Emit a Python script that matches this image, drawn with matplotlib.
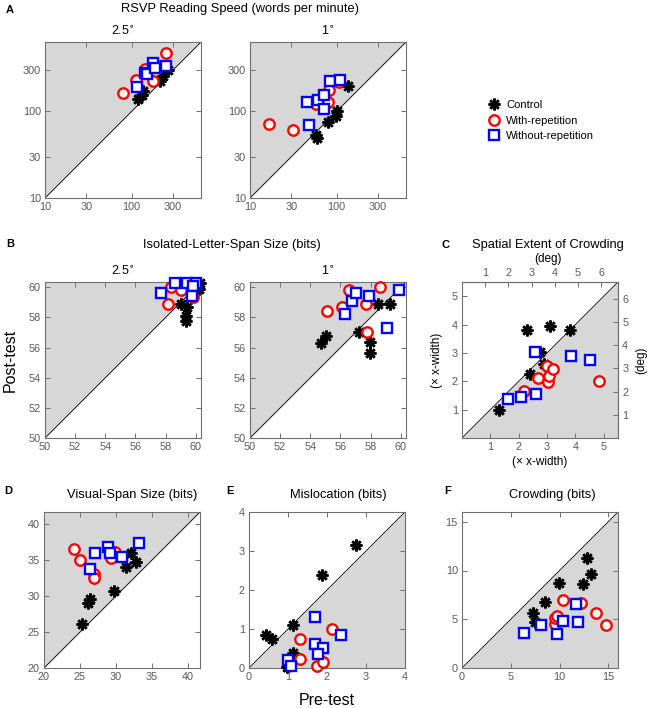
import matplotlib.pyplot as plt

plt.rcParams['font.family'] = ['Liberation Sans', 'DejaVu Sans']

# ---- data (pre-test x, post-test y) ----
# A: RSVP reading speed, 2.5 deg
a25_ctrl_x = [119, 130, 134, 212, 232, 265]
a25_ctrl_y = [139, 156, 170, 222, 253, 297]
a25_rep_x = [80, 111, 143, 175, 194, 247]
a25_rep_y = [161, 232, 310, 226, 330, 471]
a25_norep_x = [114, 143, 152, 176, 186, 247]
a25_norep_y = [189, 277, 271, 358, 316, 330]
# A: RSVP reading speed, 1 deg
a1_ctrl_x = [58, 59, 79, 98, 101, 136]
a1_ctrl_y = [54, 49, 75, 89, 100, 196]
a1_rep_x = [16.4, 31, 57, 79, 82, 107]
a1_rep_y = [72, 61, 120, 128, 175, 218]
a1_norep_x = [45, 48, 61, 71, 71, 84, 108]
a1_norep_y = [128, 70, 134, 153, 105, 226, 232]
# B: isolated-letter-span size, 2.5 deg
b25_ctrl_x = [59.0, 59.45, 59.34, 59.34, 60.2, 60.3]
b25_ctrl_y = [58.9, 58.7, 58.1, 57.75, 59.9, 60.3]
b25_rep_x = [58.18, 58.35, 59.0, 59.05, 59.8]
b25_rep_y = [58.9, 60.0, 60.25, 59.8, 59.35]
b25_norep_x = [57.67, 58.64, 59.45, 60.0, 59.8, 59.76]
b25_norep_y = [59.6, 60.3, 60.3, 60.3, 60.1, 59.4]
# B: isolated-letter-span size, 1 deg
b1_ctrl_x = [54.68, 55.05, 57.2, 57.96, 57.96, 58.46, 59.3]
b1_ctrl_y = [56.3, 56.77, 57.06, 56.34, 55.66, 58.9, 58.9]
b1_rep_x = [55.1, 56.1, 56.6, 57.7, 57.75, 58.64]
b1_rep_y = [58.44, 58.7, 59.85, 58.9, 57.06, 60.05]
b1_norep_x = [56.3, 56.77, 57.05, 57.9, 59.1, 59.9]
b1_norep_y = [58.2, 59.1, 59.6, 59.4, 57.3, 59.85]
# C: spatial extent of crowding (x-width)
c_ctrl_x = [1.31, 2.29, 3.12, 3.8, 2.74, 2.41, 2.9]
c_ctrl_y = [1.0, 3.82, 3.94, 3.8, 3.04, 2.27, 2.6]
c_rep_x = [2.18, 2.67, 3.0, 3.04, 3.08, 3.2, 4.82]
c_rep_y = [1.66, 2.13, 2.53, 1.98, 2.18, 2.45, 2.01]
c_norep_x = [1.62, 2.09, 2.6, 2.59, 3.85, 4.52]
c_norep_y = [1.39, 1.44, 1.55, 3.02, 2.89, 2.75]
# D: visual-span size
d_ctrl_x = [25.23, 26.1, 26.43, 29.72, 31.34, 32.04, 32.82]
d_ctrl_y = [26.14, 29.07, 29.6, 30.7, 34.05, 35.95, 34.8]
d_rep_x = [24.12, 24.95, 26.94, 26.94, 29.26, 29.9]
d_rep_y = [36.6, 34.98, 33.07, 32.5, 35.3, 36.1]
d_norep_x = [26.43, 27.13, 28.89, 29.12, 30.83, 33.24]
d_norep_y = [33.77, 36.05, 36.8, 36.05, 35.5, 37.35]
# E: mislocation
e_ctrl_x = [0.44, 0.59, 1.14, 1.14, 0.97, 1.86, 2.75]
e_ctrl_y = [0.85, 0.75, 1.09, 0.38, 0.03, 2.38, 3.16]
e_rep_x = [1.3, 1.3, 1.75, 1.9, 2.14]
e_rep_y = [0.75, 0.22, 0.05, 0.15, 1.0]
e_norep_x = [1.0, 1.08, 1.69, 1.69, 1.91, 1.77, 2.36]
e_norep_y = [0.21, 0.05, 1.31, 0.61, 0.52, 0.37, 0.84]
# F: crowding
f_ctrl_x = [7.28, 7.52, 8.54, 9.9, 12.45, 12.79, 13.27]
f_ctrl_y = [5.61, 4.69, 6.77, 8.71, 8.64, 11.33, 9.63]
f_rep_x = [9.56, 9.56, 9.73, 10.31, 12.18, 13.78, 14.76]
f_rep_y = [4.52, 5.1, 5.31, 6.94, 6.67, 5.65, 4.46]
f_norep_x = [6.36, 8.13, 9.73, 10.31, 11.87, 11.7]
f_norep_y = [3.54, 4.39, 3.47, 4.83, 4.69, 6.56]

deg_per_xwidth = 1.223

W, H = 647, 708
fig = plt.figure(figsize=(W / 100, H / 100), dpi=100)
GRAY = '#d7d7d7'
EDGE = '#707070'
LABELC = '#5a5a5a'


def add_ax(x0, y0, w=156, h=156):
    return fig.add_axes([x0 / W, 1 - (y0 + h) / H, w / W, h / H])


def ftext(x, y, s, **kw):
    return fig.text(x / W, 1 - y / H, s, ha='center', va='center', **kw)


def style(ax, lo, hi, ticks, shade_above, log=False, box=True):
    if log:
        ax.set_xscale('log')
        ax.set_yscale('log')
    ax.set_xlim(lo, hi)
    ax.set_ylim(lo, hi)
    if shade_above:
        ax.fill_between([lo, hi], [lo, hi], hi, color=GRAY, lw=0, zorder=0)
    else:
        ax.fill_between([lo, hi], lo, [lo, hi], color=GRAY, lw=0, zorder=0)
    ax.plot([lo, hi], [lo, hi], color='k', lw=0.6, zorder=1)
    ax.set_xticks(ticks)
    ax.set_yticks(ticks)
    ax.set_xticklabels([str(t) for t in ticks])
    ax.set_yticklabels([str(t) for t in ticks])
    ax.minorticks_off()
    ax.tick_params(direction='in', top=box, right=box, length=3.5, width=0.7,
                   color=EDGE, labelcolor=LABELC, labelsize=7.8, pad=3)
    for s in ax.spines.values():
        s.set_color(EDGE)
        s.set_linewidth(0.8)


def points(ax, cx, cy, rx, ry, nx, ny):
    ax.plot(cx, cy, ls='none', marker=(8, 2, 0), ms=8.5, mew=1.8, color='k',
            label='Control', clip_on=False, zorder=3)
    ax.plot(rx, ry, ls='none', marker='o', ms=7.5, mfc='white', mec='#ff0000',
            mew=1.7, label='With-repetition', clip_on=False, zorder=4)
    ax.plot(nx, ny, ls='none', marker='s', ms=6.5, mfc='white', mec='#0000ff',
            mew=1.7, label='Without-repetition', clip_on=False, zorder=5)


log_ticks = [10, 30, 100, 300]
b_ticks = [50, 52, 54, 56, 58, 60]

axA1 = add_ax(45, 42)
style(axA1, 10, 630, log_ticks, True, log=True)
points(axA1, a25_ctrl_x, a25_ctrl_y, a25_rep_x, a25_rep_y, a25_norep_x, a25_norep_y)
axA1.set_title('2.5$^{\\circ}$', fontsize=9, pad=5)

axA2 = add_ax(250, 42)
style(axA2, 10, 630, log_ticks, True, log=True)
points(axA2, a1_ctrl_x, a1_ctrl_y, a1_rep_x, a1_rep_y, a1_norep_x, a1_norep_y)
axA2.set_title('1$^{\\circ}$', fontsize=9, pad=5)

axB1 = add_ax(45, 282)
style(axB1, 50, 60.35, b_ticks, True)
points(axB1, b25_ctrl_x, b25_ctrl_y, b25_rep_x, b25_rep_y, b25_norep_x, b25_norep_y)
axB1.set_title('2.5$^{\\circ}$', fontsize=9, pad=5)
axB1.set_ylabel('Post-test', fontsize=11.5, labelpad=8)

axB2 = add_ax(250, 282)
style(axB2, 50, 60.35, b_ticks, True)
points(axB2, b1_ctrl_x, b1_ctrl_y, b1_rep_x, b1_rep_y, b1_norep_x, b1_norep_y)
axB2.set_title('1$^{\\circ}$', fontsize=9, pad=5)

axC = add_ax(462, 282)
style(axC, 0, 5.5, [1, 2, 3, 4, 5], False, box=False)
points(axC, c_ctrl_x, c_ctrl_y, c_rep_x, c_rep_y, c_norep_x, c_norep_y)
axC.set_xlabel('(\u00d7 x-width)', fontsize=8.5, labelpad=3)
axC.set_ylabel('(\u00d7 x-width)', fontsize=8.5, labelpad=6)
secx = axC.secondary_xaxis('top', functions=(lambda v: v * deg_per_xwidth,
                                             lambda v: v / deg_per_xwidth))
secy = axC.secondary_yaxis('right', functions=(lambda v: v * deg_per_xwidth,
                                               lambda v: v / deg_per_xwidth))
for sec in (secx, secy):
    sec.set_ticks([1, 2, 3, 4, 5, 6])
    sec.tick_params(direction='in', length=3.5, width=0.7, color=EDGE,
                    labelcolor=LABELC, labelsize=7.8, pad=3)
    for s in sec.spines.values():
        s.set_color(EDGE)
secy.set_ylabel('(deg)', fontsize=8.5, labelpad=5)

axD = add_ax(44, 512)
style(axD, 20, 41.7, [20, 25, 30, 35, 40], True)
points(axD, d_ctrl_x, d_ctrl_y, d_rep_x, d_rep_y, d_norep_x, d_norep_y)

axE = add_ax(249, 512)
style(axE, 0, 4, [0, 1, 2, 3, 4], False)
points(axE, e_ctrl_x, e_ctrl_y, e_rep_x, e_rep_y, e_norep_x, e_norep_y)
axE.set_xlabel('Pre-test', fontsize=11.5, labelpad=8)

axF = add_ax(462, 512)
style(axF, 0, 16, [0, 5, 10, 15], False)
points(axF, f_ctrl_x, f_ctrl_y, f_rep_x, f_rep_y, f_norep_x, f_norep_y)

# figure-level titles and panel letters
ftext(240, 9, 'RSVP Reading Speed (words per minute)', fontsize=9.3)
ftext(232, 245, 'Isolated-Letter-Span Size (bits)', fontsize=9.3)
ftext(548, 245, 'Spatial Extent of Crowding', fontsize=9.3)
ftext(548, 259, '(deg)', fontsize=8.5)
ftext(132, 495, 'Visual-Span Size (bits)', fontsize=9.3)
ftext(338, 495, 'Mislocation (bits)', fontsize=9.3)
ftext(552, 495, 'Crowding (bits)', fontsize=9.3)
for letter, x, y in [('A', 10, 10), ('B', 10, 244), ('C', 446, 245),
                     ('D', 8, 491), ('E', 230, 491), ('F', 448, 491)]:
    ftext(x, y, letter, fontsize=8, fontweight='bold')

handles, labels = axA1.get_legend_handles_labels()
fig.legend(handles, labels, loc='upper left', bbox_to_anchor=(477 / W, 1 - 90 / H),
           frameon=False, fontsize=8, handletextpad=0.5, labelspacing=0.5,
           handlelength=1.2)

fig.savefig('out.png', dpi=100)
